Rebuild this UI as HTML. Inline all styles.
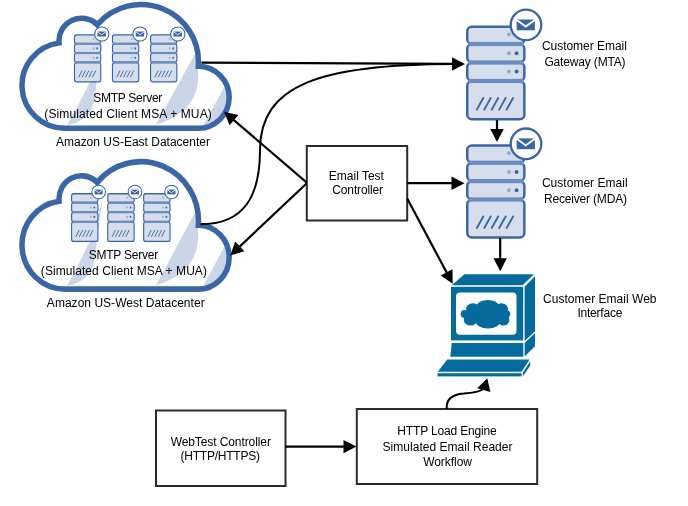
<!DOCTYPE html>
<html><head><meta charset="utf-8"><style>
html,body{margin:0;padding:0;background:#fff;width:688px;height:506px;overflow:hidden}
svg{display:block;will-change:transform}
text{font-family:"Liberation Sans",sans-serif;fill:#000}
</style></head><body>
<svg width="688" height="506" viewBox="0 0 688 506">
<rect width="688" height="506" fill="#fff"/>
<g transform="translate(0,0) scale(1,1.0)">
<clipPath id="cc1"><path d="M59.05,42.90 A22.55,22.55 0 0 1 97.26,24.67 A57.5,57.5 0 0 1 198.34,66.30 A31,31 0 0 1 198.00,128.30 L64.90,128.30 A42.9,42.9 0 0 1 59.05,42.90 Z"/></clipPath>
<path d="M59.05,42.90 A22.55,22.55 0 0 1 97.26,24.67 A57.5,57.5 0 0 1 198.34,66.30 A31,31 0 0 1 198.00,128.30 L64.90,128.30 A42.9,42.9 0 0 1 59.05,42.90 Z" fill="#fff"/>
<g clip-path="url(#cc1)">
<path d="M67,125 L78,105.7 L89.2,82.9 L96.5,62 L102.5,41.5 L99.5,62 L96.5,80 L95.8,90 L95.1,96 L93.6,104 L91,110.5 L86.5,116.1 L81.5,119.8 L76.9,122.4 L71.5,124.2 Z" fill="#cad6e7"/>
<path d="M156,124.5 L195.5,53 C202,82 200,112 156,124.5 Z" fill="#cad6e7"/>
<path d="M202.7,126 L225.5,85 L240,85 L240,140 L200,140 Z" fill="#cad6e7"/>
</g>
<path d="M59.05,42.90 A22.55,22.55 0 0 1 97.26,24.67 A57.5,57.5 0 0 1 198.34,66.30 A31,31 0 0 1 198.00,128.30 L64.90,128.30 A42.9,42.9 0 0 1 59.05,42.90 Z" fill="none" stroke="#3b66a6" stroke-width="5.5"/>
</g>
<g transform="translate(73.9,34.3) scale(0.4567,0.5063)">
<rect x="1.25" y="1.25" width="57.5" height="16.95" rx="4.5" fill="#d6deeb" stroke="#3b66a6" stroke-width="2.5"/>
<rect x="1.25" y="18.8" width="57.5" height="17.90" rx="4.5" fill="#d6deeb" stroke="#3b66a6" stroke-width="2.5"/>
<rect x="1.25" y="37.3" width="57.5" height="17.90" rx="4.5" fill="#d6deeb" stroke="#3b66a6" stroke-width="2.5"/>
<rect x="1.25" y="55.8" width="57.5" height="37.95" rx="4.5" fill="#d6deeb" stroke="#3b66a6" stroke-width="2.5"/>
<rect x="2.5" y="16.4" width="55" height="4.2" fill="#6a8cbf"/>
<rect x="2.5" y="34.9" width="55" height="4.2" fill="#6a8cbf"/>
<rect x="2.5" y="53.4" width="55" height="4.2" fill="#6a8cbf"/>
<line x1="10.90" y1="84.1" x2="17.40" y2="72.5" stroke="#3b66a6" stroke-width="1.9" stroke-linecap="round"/>
<line x1="18.40" y1="84.1" x2="24.90" y2="72.5" stroke="#3b66a6" stroke-width="1.9" stroke-linecap="round"/>
<line x1="25.90" y1="84.1" x2="32.40" y2="72.5" stroke="#3b66a6" stroke-width="1.9" stroke-linecap="round"/>
<line x1="33.40" y1="84.1" x2="39.90" y2="72.5" stroke="#3b66a6" stroke-width="1.9" stroke-linecap="round"/>
<line x1="40.90" y1="84.1" x2="47.40" y2="72.5" stroke="#3b66a6" stroke-width="1.9" stroke-linecap="round"/>
<circle cx="43.2" cy="9.1" r="2" fill="#94abd0"/>
<circle cx="43.2" cy="27.8" r="2" fill="#94abd0"/>
<circle cx="43.2" cy="46.1" r="2" fill="#94abd0"/>
<circle cx="50.9" cy="27.8" r="2" fill="#3b66a6"/>
<circle cx="50.9" cy="46.1" r="2" fill="#3b66a6"/>
</g>
<g transform="translate(101.8,34.0) scale(0.4634)">
<circle cx="0" cy="0" r="15.3" fill="#fff" stroke="#3b66a6" stroke-width="2.3"/>
<rect x="-9.3" y="-5.4" width="18.2" height="10.8" fill="#3b66a6"/>
<polyline points="-9.6,-5.2 -0.2,1.6 9.2,-5.2" fill="none" stroke="#fff" stroke-width="1.9"/>
</g>
<g transform="translate(111.9,34.3) scale(0.4567,0.5063)">
<rect x="1.25" y="1.25" width="57.5" height="16.95" rx="4.5" fill="#d6deeb" stroke="#3b66a6" stroke-width="2.5"/>
<rect x="1.25" y="18.8" width="57.5" height="17.90" rx="4.5" fill="#d6deeb" stroke="#3b66a6" stroke-width="2.5"/>
<rect x="1.25" y="37.3" width="57.5" height="17.90" rx="4.5" fill="#d6deeb" stroke="#3b66a6" stroke-width="2.5"/>
<rect x="1.25" y="55.8" width="57.5" height="37.95" rx="4.5" fill="#d6deeb" stroke="#3b66a6" stroke-width="2.5"/>
<rect x="2.5" y="16.4" width="55" height="4.2" fill="#6a8cbf"/>
<rect x="2.5" y="34.9" width="55" height="4.2" fill="#6a8cbf"/>
<rect x="2.5" y="53.4" width="55" height="4.2" fill="#6a8cbf"/>
<line x1="10.90" y1="84.1" x2="17.40" y2="72.5" stroke="#3b66a6" stroke-width="1.9" stroke-linecap="round"/>
<line x1="18.40" y1="84.1" x2="24.90" y2="72.5" stroke="#3b66a6" stroke-width="1.9" stroke-linecap="round"/>
<line x1="25.90" y1="84.1" x2="32.40" y2="72.5" stroke="#3b66a6" stroke-width="1.9" stroke-linecap="round"/>
<line x1="33.40" y1="84.1" x2="39.90" y2="72.5" stroke="#3b66a6" stroke-width="1.9" stroke-linecap="round"/>
<line x1="40.90" y1="84.1" x2="47.40" y2="72.5" stroke="#3b66a6" stroke-width="1.9" stroke-linecap="round"/>
<circle cx="43.2" cy="9.1" r="2" fill="#94abd0"/>
<circle cx="43.2" cy="27.8" r="2" fill="#94abd0"/>
<circle cx="43.2" cy="46.1" r="2" fill="#94abd0"/>
<circle cx="50.9" cy="27.8" r="2" fill="#3b66a6"/>
<circle cx="50.9" cy="46.1" r="2" fill="#3b66a6"/>
</g>
<g transform="translate(140,34.0) scale(0.4634)">
<circle cx="0" cy="0" r="15.3" fill="#fff" stroke="#3b66a6" stroke-width="2.3"/>
<rect x="-9.3" y="-5.4" width="18.2" height="10.8" fill="#3b66a6"/>
<polyline points="-9.6,-5.2 -0.2,1.6 9.2,-5.2" fill="none" stroke="#fff" stroke-width="1.9"/>
</g>
<g transform="translate(150,34.3) scale(0.4567,0.5063)">
<rect x="1.25" y="1.25" width="57.5" height="16.95" rx="4.5" fill="#d6deeb" stroke="#3b66a6" stroke-width="2.5"/>
<rect x="1.25" y="18.8" width="57.5" height="17.90" rx="4.5" fill="#d6deeb" stroke="#3b66a6" stroke-width="2.5"/>
<rect x="1.25" y="37.3" width="57.5" height="17.90" rx="4.5" fill="#d6deeb" stroke="#3b66a6" stroke-width="2.5"/>
<rect x="1.25" y="55.8" width="57.5" height="37.95" rx="4.5" fill="#d6deeb" stroke="#3b66a6" stroke-width="2.5"/>
<rect x="2.5" y="16.4" width="55" height="4.2" fill="#6a8cbf"/>
<rect x="2.5" y="34.9" width="55" height="4.2" fill="#6a8cbf"/>
<rect x="2.5" y="53.4" width="55" height="4.2" fill="#6a8cbf"/>
<line x1="10.90" y1="84.1" x2="17.40" y2="72.5" stroke="#3b66a6" stroke-width="1.9" stroke-linecap="round"/>
<line x1="18.40" y1="84.1" x2="24.90" y2="72.5" stroke="#3b66a6" stroke-width="1.9" stroke-linecap="round"/>
<line x1="25.90" y1="84.1" x2="32.40" y2="72.5" stroke="#3b66a6" stroke-width="1.9" stroke-linecap="round"/>
<line x1="33.40" y1="84.1" x2="39.90" y2="72.5" stroke="#3b66a6" stroke-width="1.9" stroke-linecap="round"/>
<line x1="40.90" y1="84.1" x2="47.40" y2="72.5" stroke="#3b66a6" stroke-width="1.9" stroke-linecap="round"/>
<circle cx="43.2" cy="9.1" r="2" fill="#94abd0"/>
<circle cx="43.2" cy="27.8" r="2" fill="#94abd0"/>
<circle cx="43.2" cy="46.1" r="2" fill="#94abd0"/>
<circle cx="50.9" cy="27.8" r="2" fill="#3b66a6"/>
<circle cx="50.9" cy="46.1" r="2" fill="#3b66a6"/>
</g>
<g transform="translate(177.8,34.0) scale(0.4634)">
<circle cx="0" cy="0" r="15.3" fill="#fff" stroke="#3b66a6" stroke-width="2.3"/>
<rect x="-9.3" y="-5.4" width="18.2" height="10.8" fill="#3b66a6"/>
<polyline points="-9.6,-5.2 -0.2,1.6 9.2,-5.2" fill="none" stroke="#fff" stroke-width="1.9"/>
</g>
<text x="93.25" y="101.8" font-size="12" textLength="69.11" lengthAdjust="spacing">SMTP Server</text>
<text x="44.36" y="117.8" font-size="12" textLength="167.40" lengthAdjust="spacing">(Simulated Client MSA + MUA)</text>
<text x="55.97" y="145.8" font-size="12" textLength="153.93" lengthAdjust="spacing">Amazon US-East Datacenter</text>
<g transform="translate(0,157) scale(1,1.03)">
<clipPath id="cc2"><path d="M59.05,42.90 A22.55,22.55 0 0 1 97.26,24.67 A57.5,57.5 0 0 1 198.34,66.30 A31,31 0 0 1 198.00,128.30 L64.90,128.30 A42.9,42.9 0 0 1 59.05,42.90 Z"/></clipPath>
<path d="M59.05,42.90 A22.55,22.55 0 0 1 97.26,24.67 A57.5,57.5 0 0 1 198.34,66.30 A31,31 0 0 1 198.00,128.30 L64.90,128.30 A42.9,42.9 0 0 1 59.05,42.90 Z" fill="#fff"/>
<g clip-path="url(#cc2)">
<path d="M67,125 L78,105.7 L89.2,82.9 L96.5,62 L102.5,41.5 L99.5,62 L96.5,80 L95.8,90 L95.1,96 L93.6,104 L91,110.5 L86.5,116.1 L81.5,119.8 L76.9,122.4 L71.5,124.2 Z" fill="#cad6e7"/>
<path d="M156,124.5 L195.5,53 C202,82 200,112 156,124.5 Z" fill="#cad6e7"/>
<path d="M202.7,126 L225.5,85 L240,85 L240,140 L200,140 Z" fill="#cad6e7"/>
</g>
<path d="M59.05,42.90 A22.55,22.55 0 0 1 97.26,24.67 A57.5,57.5 0 0 1 198.34,66.30 A31,31 0 0 1 198.00,128.30 L64.90,128.30 A42.9,42.9 0 0 1 59.05,42.90 Z" fill="none" stroke="#3b66a6" stroke-width="5.5"/>
</g>
<g transform="translate(71,193.1) scale(0.4583,0.5158)">
<rect x="1.25" y="1.25" width="57.5" height="16.95" rx="4.5" fill="#d6deeb" stroke="#3b66a6" stroke-width="2.5"/>
<rect x="1.25" y="18.8" width="57.5" height="17.90" rx="4.5" fill="#d6deeb" stroke="#3b66a6" stroke-width="2.5"/>
<rect x="1.25" y="37.3" width="57.5" height="17.90" rx="4.5" fill="#d6deeb" stroke="#3b66a6" stroke-width="2.5"/>
<rect x="1.25" y="55.8" width="57.5" height="37.95" rx="4.5" fill="#d6deeb" stroke="#3b66a6" stroke-width="2.5"/>
<rect x="2.5" y="16.4" width="55" height="4.2" fill="#6a8cbf"/>
<rect x="2.5" y="34.9" width="55" height="4.2" fill="#6a8cbf"/>
<rect x="2.5" y="53.4" width="55" height="4.2" fill="#6a8cbf"/>
<line x1="10.90" y1="84.1" x2="17.40" y2="72.5" stroke="#3b66a6" stroke-width="1.9" stroke-linecap="round"/>
<line x1="18.40" y1="84.1" x2="24.90" y2="72.5" stroke="#3b66a6" stroke-width="1.9" stroke-linecap="round"/>
<line x1="25.90" y1="84.1" x2="32.40" y2="72.5" stroke="#3b66a6" stroke-width="1.9" stroke-linecap="round"/>
<line x1="33.40" y1="84.1" x2="39.90" y2="72.5" stroke="#3b66a6" stroke-width="1.9" stroke-linecap="round"/>
<line x1="40.90" y1="84.1" x2="47.40" y2="72.5" stroke="#3b66a6" stroke-width="1.9" stroke-linecap="round"/>
<circle cx="43.2" cy="9.1" r="2" fill="#94abd0"/>
<circle cx="43.2" cy="27.8" r="2" fill="#94abd0"/>
<circle cx="43.2" cy="46.1" r="2" fill="#94abd0"/>
<circle cx="50.9" cy="27.8" r="2" fill="#3b66a6"/>
<circle cx="50.9" cy="46.1" r="2" fill="#3b66a6"/>
</g>
<g transform="translate(98.7,192) scale(0.4451)">
<circle cx="0" cy="0" r="15.3" fill="#fff" stroke="#3b66a6" stroke-width="2.3"/>
<rect x="-9.3" y="-5.4" width="18.2" height="10.8" fill="#3b66a6"/>
<polyline points="-9.6,-5.2 -0.2,1.6 9.2,-5.2" fill="none" stroke="#fff" stroke-width="1.9"/>
</g>
<g transform="translate(107.2,193.1) scale(0.4583,0.5158)">
<rect x="1.25" y="1.25" width="57.5" height="16.95" rx="4.5" fill="#d6deeb" stroke="#3b66a6" stroke-width="2.5"/>
<rect x="1.25" y="18.8" width="57.5" height="17.90" rx="4.5" fill="#d6deeb" stroke="#3b66a6" stroke-width="2.5"/>
<rect x="1.25" y="37.3" width="57.5" height="17.90" rx="4.5" fill="#d6deeb" stroke="#3b66a6" stroke-width="2.5"/>
<rect x="1.25" y="55.8" width="57.5" height="37.95" rx="4.5" fill="#d6deeb" stroke="#3b66a6" stroke-width="2.5"/>
<rect x="2.5" y="16.4" width="55" height="4.2" fill="#6a8cbf"/>
<rect x="2.5" y="34.9" width="55" height="4.2" fill="#6a8cbf"/>
<rect x="2.5" y="53.4" width="55" height="4.2" fill="#6a8cbf"/>
<line x1="10.90" y1="84.1" x2="17.40" y2="72.5" stroke="#3b66a6" stroke-width="1.9" stroke-linecap="round"/>
<line x1="18.40" y1="84.1" x2="24.90" y2="72.5" stroke="#3b66a6" stroke-width="1.9" stroke-linecap="round"/>
<line x1="25.90" y1="84.1" x2="32.40" y2="72.5" stroke="#3b66a6" stroke-width="1.9" stroke-linecap="round"/>
<line x1="33.40" y1="84.1" x2="39.90" y2="72.5" stroke="#3b66a6" stroke-width="1.9" stroke-linecap="round"/>
<line x1="40.90" y1="84.1" x2="47.40" y2="72.5" stroke="#3b66a6" stroke-width="1.9" stroke-linecap="round"/>
<circle cx="43.2" cy="9.1" r="2" fill="#94abd0"/>
<circle cx="43.2" cy="27.8" r="2" fill="#94abd0"/>
<circle cx="43.2" cy="46.1" r="2" fill="#94abd0"/>
<circle cx="50.9" cy="27.8" r="2" fill="#3b66a6"/>
<circle cx="50.9" cy="46.1" r="2" fill="#3b66a6"/>
</g>
<g transform="translate(135,192) scale(0.4451)">
<circle cx="0" cy="0" r="15.3" fill="#fff" stroke="#3b66a6" stroke-width="2.3"/>
<rect x="-9.3" y="-5.4" width="18.2" height="10.8" fill="#3b66a6"/>
<polyline points="-9.6,-5.2 -0.2,1.6 9.2,-5.2" fill="none" stroke="#fff" stroke-width="1.9"/>
</g>
<g transform="translate(143.1,193.1) scale(0.4583,0.5158)">
<rect x="1.25" y="1.25" width="57.5" height="16.95" rx="4.5" fill="#d6deeb" stroke="#3b66a6" stroke-width="2.5"/>
<rect x="1.25" y="18.8" width="57.5" height="17.90" rx="4.5" fill="#d6deeb" stroke="#3b66a6" stroke-width="2.5"/>
<rect x="1.25" y="37.3" width="57.5" height="17.90" rx="4.5" fill="#d6deeb" stroke="#3b66a6" stroke-width="2.5"/>
<rect x="1.25" y="55.8" width="57.5" height="37.95" rx="4.5" fill="#d6deeb" stroke="#3b66a6" stroke-width="2.5"/>
<rect x="2.5" y="16.4" width="55" height="4.2" fill="#6a8cbf"/>
<rect x="2.5" y="34.9" width="55" height="4.2" fill="#6a8cbf"/>
<rect x="2.5" y="53.4" width="55" height="4.2" fill="#6a8cbf"/>
<line x1="10.90" y1="84.1" x2="17.40" y2="72.5" stroke="#3b66a6" stroke-width="1.9" stroke-linecap="round"/>
<line x1="18.40" y1="84.1" x2="24.90" y2="72.5" stroke="#3b66a6" stroke-width="1.9" stroke-linecap="round"/>
<line x1="25.90" y1="84.1" x2="32.40" y2="72.5" stroke="#3b66a6" stroke-width="1.9" stroke-linecap="round"/>
<line x1="33.40" y1="84.1" x2="39.90" y2="72.5" stroke="#3b66a6" stroke-width="1.9" stroke-linecap="round"/>
<line x1="40.90" y1="84.1" x2="47.40" y2="72.5" stroke="#3b66a6" stroke-width="1.9" stroke-linecap="round"/>
<circle cx="43.2" cy="9.1" r="2" fill="#94abd0"/>
<circle cx="43.2" cy="27.8" r="2" fill="#94abd0"/>
<circle cx="43.2" cy="46.1" r="2" fill="#94abd0"/>
<circle cx="50.9" cy="27.8" r="2" fill="#3b66a6"/>
<circle cx="50.9" cy="46.1" r="2" fill="#3b66a6"/>
</g>
<g transform="translate(171.5,192) scale(0.4451)">
<circle cx="0" cy="0" r="15.3" fill="#fff" stroke="#3b66a6" stroke-width="2.3"/>
<rect x="-9.3" y="-5.4" width="18.2" height="10.8" fill="#3b66a6"/>
<polyline points="-9.6,-5.2 -0.2,1.6 9.2,-5.2" fill="none" stroke="#fff" stroke-width="1.9"/>
</g>
<text x="88.65" y="259" font-size="12" textLength="69.66" lengthAdjust="spacing">SMTP Server</text>
<text x="40.86" y="275.3" font-size="12" textLength="166.06" lengthAdjust="spacing">(Simulated Client MSA + MUA)</text>
<text x="46.87" y="306.6" font-size="12" textLength="157.76" lengthAdjust="spacing">Amazon US-West Datacenter</text>
<g transform="translate(466,25.5) scale(0.9933,1.0000)">
<rect x="1.25" y="1.25" width="57.5" height="16.95" rx="4.5" fill="#d6deeb" stroke="#3b66a6" stroke-width="2.5"/>
<rect x="1.25" y="18.8" width="57.5" height="17.90" rx="4.5" fill="#d6deeb" stroke="#3b66a6" stroke-width="2.5"/>
<rect x="1.25" y="37.3" width="57.5" height="17.90" rx="4.5" fill="#d6deeb" stroke="#3b66a6" stroke-width="2.5"/>
<rect x="1.25" y="55.8" width="57.5" height="37.95" rx="4.5" fill="#d6deeb" stroke="#3b66a6" stroke-width="2.5"/>
<rect x="2.5" y="16.4" width="55" height="4.2" fill="#6a8cbf"/>
<rect x="2.5" y="34.9" width="55" height="4.2" fill="#6a8cbf"/>
<rect x="2.5" y="53.4" width="55" height="4.2" fill="#6a8cbf"/>
<line x1="10.90" y1="84.1" x2="17.40" y2="72.5" stroke="#3b66a6" stroke-width="1.9" stroke-linecap="round"/>
<line x1="18.40" y1="84.1" x2="24.90" y2="72.5" stroke="#3b66a6" stroke-width="1.9" stroke-linecap="round"/>
<line x1="25.90" y1="84.1" x2="32.40" y2="72.5" stroke="#3b66a6" stroke-width="1.9" stroke-linecap="round"/>
<line x1="33.40" y1="84.1" x2="39.90" y2="72.5" stroke="#3b66a6" stroke-width="1.9" stroke-linecap="round"/>
<line x1="40.90" y1="84.1" x2="47.40" y2="72.5" stroke="#3b66a6" stroke-width="1.9" stroke-linecap="round"/>
<circle cx="43.2" cy="9.1" r="2" fill="#94abd0"/>
<circle cx="43.2" cy="27.8" r="2" fill="#94abd0"/>
<circle cx="43.2" cy="46.1" r="2" fill="#94abd0"/>
<circle cx="50.9" cy="27.8" r="2" fill="#3b66a6"/>
<circle cx="50.9" cy="46.1" r="2" fill="#3b66a6"/>
</g>
<g transform="translate(526,24.9) scale(1.0000)">
<circle cx="0" cy="0" r="15.3" fill="#fff" stroke="#3b66a6" stroke-width="2.3"/>
<rect x="-9.3" y="-5.4" width="18.2" height="10.8" fill="#3b66a6"/>
<polyline points="-9.6,-5.2 -0.2,1.6 9.2,-5.2" fill="none" stroke="#fff" stroke-width="1.9"/>
</g>
<text x="541.89" y="50" font-size="12" textLength="85.00" lengthAdjust="spacing">Customer Email</text>
<text x="544.40" y="66.1" font-size="12" textLength="81.20" lengthAdjust="spacing">Gateway (MTA)</text>
<g transform="translate(466,144.3) scale(0.9933,0.9947)">
<rect x="1.25" y="1.25" width="57.5" height="16.95" rx="4.5" fill="#d6deeb" stroke="#3b66a6" stroke-width="2.5"/>
<rect x="1.25" y="18.8" width="57.5" height="17.90" rx="4.5" fill="#d6deeb" stroke="#3b66a6" stroke-width="2.5"/>
<rect x="1.25" y="37.3" width="57.5" height="17.90" rx="4.5" fill="#d6deeb" stroke="#3b66a6" stroke-width="2.5"/>
<rect x="1.25" y="55.8" width="57.5" height="37.95" rx="4.5" fill="#d6deeb" stroke="#3b66a6" stroke-width="2.5"/>
<rect x="2.5" y="16.4" width="55" height="4.2" fill="#6a8cbf"/>
<rect x="2.5" y="34.9" width="55" height="4.2" fill="#6a8cbf"/>
<rect x="2.5" y="53.4" width="55" height="4.2" fill="#6a8cbf"/>
<line x1="10.90" y1="84.1" x2="17.40" y2="72.5" stroke="#3b66a6" stroke-width="1.9" stroke-linecap="round"/>
<line x1="18.40" y1="84.1" x2="24.90" y2="72.5" stroke="#3b66a6" stroke-width="1.9" stroke-linecap="round"/>
<line x1="25.90" y1="84.1" x2="32.40" y2="72.5" stroke="#3b66a6" stroke-width="1.9" stroke-linecap="round"/>
<line x1="33.40" y1="84.1" x2="39.90" y2="72.5" stroke="#3b66a6" stroke-width="1.9" stroke-linecap="round"/>
<line x1="40.90" y1="84.1" x2="47.40" y2="72.5" stroke="#3b66a6" stroke-width="1.9" stroke-linecap="round"/>
<circle cx="43.2" cy="9.1" r="2" fill="#94abd0"/>
<circle cx="43.2" cy="27.8" r="2" fill="#94abd0"/>
<circle cx="43.2" cy="46.1" r="2" fill="#94abd0"/>
<circle cx="50.9" cy="27.8" r="2" fill="#3b66a6"/>
<circle cx="50.9" cy="46.1" r="2" fill="#3b66a6"/>
</g>
<g transform="translate(526,143.8) scale(1.0000)">
<circle cx="0" cy="0" r="15.3" fill="#fff" stroke="#3b66a6" stroke-width="2.3"/>
<rect x="-9.3" y="-5.4" width="18.2" height="10.8" fill="#3b66a6"/>
<polyline points="-9.6,-5.2 -0.2,1.6 9.2,-5.2" fill="none" stroke="#fff" stroke-width="1.9"/>
</g>
<text x="541.89" y="187" font-size="12" textLength="85.75" lengthAdjust="spacing">Customer Email</text>
<text x="544.02" y="202.8" font-size="12" textLength="82.96" lengthAdjust="spacing">Receiver (MDA)</text>
<g fill="#056a9c">
<polygon points="464.4,274.2 534,274.2 522.6,285.2 451.8,285.2"/>
<rect x="451" y="286.8" width="72.2" height="53.6"/>
<polygon points="524.6,286.8 535,276.3 535,331.5 524.6,341"/>
<polygon points="451.8,343 523.3,343 523.3,356.8 450.3,356.8"/>
<polygon points="524.6,343 535,333 535,346.3 524.6,356.4"/>
<polygon points="447.2,359.5 529.6,359.5 521.6,371.8 437.8,371.8"/>
<rect x="437.6" y="373.2" width="84" height="3.2"/>
<polygon points="522.8,372.8 530.2,361.3 530.2,365.8 522.8,376.4"/>
</g>
<rect x="456" y="292.5" width="60.5" height="42.3" rx="4" fill="#fff"/>
<g fill="#056a9c"><ellipse cx="487" cy="314" rx="20" ry="10"/><ellipse cx="487.8" cy="306.2" rx="11" ry="6.2"/><ellipse cx="473" cy="309" rx="7" ry="5.8"/><ellipse cx="501.5" cy="309" rx="6.5" ry="5.8"/><circle cx="464.6" cy="314" r="3.9"/><circle cx="506.8" cy="314" r="3.6"/><ellipse cx="470.5" cy="320" rx="6.8" ry="5.5"/><ellipse cx="488" cy="321.5" rx="12.2" ry="7"/><ellipse cx="503.6" cy="320" rx="5.8" ry="5.5"/></g>
<text x="542.99" y="302.8" font-size="12" textLength="113.55" lengthAdjust="spacing">Customer Email Web</text>
<text x="577.39" y="316.5" font-size="12" textLength="44.96" lengthAdjust="spacing">Interface</text>
<rect x="306.8" y="146" width="100.39999999999998" height="74.5" fill="#fff" stroke="#2b2b2b" stroke-width="2"/>
<text x="328.82" y="179.8" font-size="12" textLength="55.06" lengthAdjust="spacing">Email Test</text>
<text x="332.29" y="193.9" font-size="12" textLength="50.80" lengthAdjust="spacing">Controller</text>
<rect x="156" y="410.5" width="129.5" height="75.5" fill="#fff" stroke="#2b2b2b" stroke-width="2"/>
<text x="170.65" y="446.3" font-size="12" textLength="100.27" lengthAdjust="spacing">WebTest Controller</text>
<text x="180.56" y="459.7" font-size="12" textLength="79.38" lengthAdjust="spacing">(HTTP/HTTPS)</text>
<rect x="356.8" y="409" width="180.40000000000003" height="75" fill="#fff" stroke="#2b2b2b" stroke-width="2"/>
<text x="397.32" y="434.8" font-size="12" textLength="99.47" lengthAdjust="spacing">HTTP Load Engine</text>
<text x="382.55" y="450.6" font-size="12" textLength="129.98" lengthAdjust="spacing">Simulated Email Reader</text>
<text x="423.15" y="465.8" font-size="12" textLength="48.80" lengthAdjust="spacing">Workflow</text>
<line x1="201.50" y1="62.60" x2="454.00" y2="63.94" stroke="#000000" stroke-width="2.2"/><polygon points="465.00,64.00 451.96,70.63 452.04,57.23" fill="#000000"/>
<path d="M200.5,224.3 C245,224.3 260,195 260,150 C260,85 320,64 455,64" fill="none" stroke="#000000" stroke-width="2"/>
<line x1="306.80" y1="182.60" x2="232.45" y2="118.86" stroke="#000000" stroke-width="2.2"/><polygon points="224.10,111.70 238.33,115.07 229.61,125.25" fill="#000000"/>
<line x1="306.80" y1="183.30" x2="238.30" y2="247.86" stroke="#000000" stroke-width="2.2"/><polygon points="230.30,255.40 235.17,241.61 244.36,251.36" fill="#000000"/>
<line x1="407.20" y1="183.20" x2="453.50" y2="183.20" stroke="#000000" stroke-width="2.2"/><polygon points="464.50,183.20 451.50,189.90 451.50,176.50" fill="#000000"/>
<line x1="407.20" y1="198.60" x2="447.52" y2="274.10" stroke="#000000" stroke-width="2.2"/><polygon points="452.70,283.80 440.67,275.49 452.49,269.18" fill="#000000"/>
<line x1="497.00" y1="120.00" x2="497.00" y2="131.00" stroke="#000000" stroke-width="2.2"/><polygon points="497.00,142.00 490.30,129.00 503.70,129.00" fill="#000000"/>
<line x1="500.20" y1="238.00" x2="500.20" y2="260.20" stroke="#000000" stroke-width="2.2"/><polygon points="500.20,271.20 493.50,258.20 506.90,258.20" fill="#000000"/>
<line x1="285.50" y1="446.60" x2="345.50" y2="446.60" stroke="#000000" stroke-width="2.2"/><polygon points="356.50,446.60 343.50,453.30 343.50,439.90" fill="#000000"/>
<path d="M446.7,409 C446,399.5 452,394.5 464,393.6 C474,392.6 479,392 482.5,389.5" fill="none" stroke="#000000" stroke-width="2"/>
<polygon points="487.3,378.3 477.2,388.3 490.4,391.9" fill="#000000"/>
</svg></body></html>
